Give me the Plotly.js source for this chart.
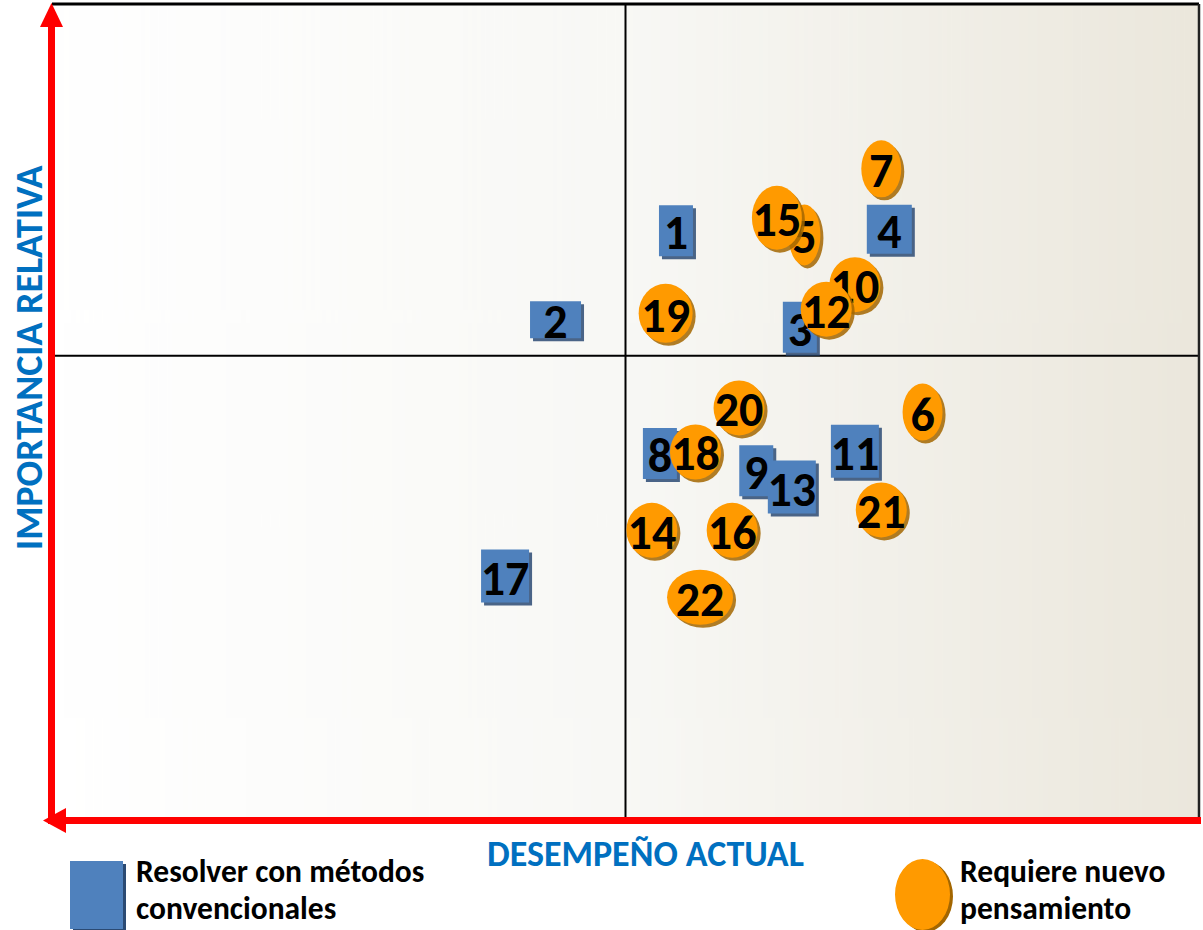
<!DOCTYPE html>
<html>
<head>
<meta charset="utf-8">
<script src="https://cdn.plot.ly/plotly-3.0.1.min.js"></script>
<style>html,body{margin:0;padding:0;background:#fff;}#chart{width:1203px;height:930px;}</style>
</head>
<body>
<div id="chart"></div>
<script>
// ---- data ----
const blueIds  = [1, 2, 3, 4, 8, 9, 11, 13, 17];
const blueX    = [5.44, 4.39, 6.52, 7.30, 5.30, 6.14, 7.00, 6.45, 3.95];
const blueY    = [7.22, 6.13, 6.04, 7.24, 4.49, 4.28, 4.52, 4.08, 2.99];

const orangeIds = [5, 6, 7, 10, 12, 14, 15, 16, 18, 19, 20, 21, 22];
const orangeX   = [6.56, 7.59, 7.23, 7.00, 6.75, 5.23, 6.32, 5.93, 5.61, 5.35, 5.99, 7.23, 5.65];
const orangeY   = [7.17, 5.00, 7.98, 6.56, 6.26, 3.55, 7.38, 3.55, 4.51, 6.21, 5.05, 3.80, 2.73];

const xDivider = 5.0;
const yDivider = 5.69;

const seriesNames = [['Resolver con métodos', 'convencionales'], ['Requiere nuevo', 'pensamiento']];
const xTitle = 'DESEMPEÑO ACTUAL';
const yTitle = 'IMPORTANCIA RELATIVA';

// ---- styles ----
const FONT = 'Carlito, Lato, "Open Sans", sans-serif';
const styles = {
  blue:   {fill: '#4F81BD', shadow: '#2B4A73', type: 'rect',
           w1: 34, h1: 51, w2: 48, h2: 53},
  orange: {fill: '#FF9A00', shadow: '#A36600', type: 'circle',
           w1: 40, h1: 57, w2: 51, h2: 55}
};
// individual marker sizes in px (styling only) where the picture differs from the default
const sizeOverride = {2: [51, 37], 4: [45, 49], 5: [32, 61], 15: [50, 64], 19: [54, 59], 22: [66, 55]};

// background gradient image
function gradientURL() {
  const c = document.createElement('canvas');
  c.width = 512; c.height = 4;
  const g = c.getContext('2d');
  const lg = g.createLinearGradient(0, 0, 512, 0);
  lg.addColorStop(0, '#ffffff');
  lg.addColorStop(0.5, '#f8f8f5');
  lg.addColorStop(1, '#ebe7dc');
  g.fillStyle = lg; g.fillRect(0, 0, 512, 4);
  return c.toDataURL('image/png');
}

// plot area geometry
const L = 52, R = 4, T = 4, B = 110, W = 1203, H = 930;
const PW = W - L - R, PH = H - T - B;
const XR = [0, 10], YR = [0, 10];
const px = v => (v - L) / PW;          // pixel -> paper (x)
const py = v => (H - B - v) / PH;      // pixel -> paper (y)
const dxPerPx = (XR[1] - XR[0]) / PW;  // pixel length -> x units
const dyPerPx = (YR[1] - YR[0]) / PH;  // pixel length -> y units

// combine points, draw in numeric order so overlaps stack correctly
const items = [];
blueIds.forEach((id, i) => items.push({id, x: blueX[i], y: blueY[i], s: styles.blue}));
orangeIds.forEach((id, i) => items.push({id, x: orangeX[i], y: orangeY[i], s: styles.orange}));
items.sort((a, b) => a.id - b.id);

const shapes = [];
// quadrant dividers
shapes.push({type: 'line', xref: 'x', yref: 'paper', x0: xDivider, x1: xDivider, y0: 0, y1: 1,
  line: {color: '#000', width: 2}, layer: 'above'});
shapes.push({type: 'line', xref: 'paper', yref: 'y', x0: 0, x1: 1, y0: yDivider, y1: yDivider,
  line: {color: '#000', width: 2}, layer: 'above'});
// frame top/right
shapes.push({type: 'line', xref: 'paper', yref: 'paper', x0: 0, x1: 1, y0: 1, y1: 1,
  line: {color: '#000', width: 3}, layer: 'above'});
shapes.push({type: 'line', xref: 'paper', yref: 'paper', x0: 1, x1: 1, y0: 1, y1: 0,
  line: {color: '#222', width: 2.5}, layer: 'above'});

items.forEach(it => {
  const two = String(it.id).length > 1;
  let w = two ? it.s.w2 : it.s.w1;
  let h = two ? it.s.h2 : it.s.h1;
  if (sizeOverride[it.id]) { [w, h] = sizeOverride[it.id]; }
  const hx = w / 2 * dxPerPx, hy = h / 2 * dyPerPx;
  const ox = 3 * dxPerPx, oy = 3 * dyPerPx;
  shapes.push({type: it.s.type, xref: 'x', yref: 'y', layer: 'above',
    x0: it.x - hx + ox, x1: it.x + hx + ox, y0: it.y - hy - oy, y1: it.y + hy - oy,
    fillcolor: it.s.shadow, line: {width: 0}, opacity: 0.85});
  shapes.push({type: it.s.type, xref: 'x', yref: 'y', layer: 'above',
    x0: it.x - hx, x1: it.x + hx, y0: it.y - hy, y1: it.y + hy,
    fillcolor: it.s.fill, line: {width: 0},
    label: {text: '<b>' + it.id + '</b>', textposition: 'middle center', padding: 0,
      font: {family: FONT, size: 48, color: '#000'}}});
});

// red axes arrows
const RED = '#FF0000';
shapes.push({type: 'line', xref: 'paper', yref: 'paper', x0: px(51.5), x1: px(51.5), y0: py(824), y1: py(26),
  line: {color: RED, width: 7}, layer: 'above'});
shapes.push({type: 'path', xref: 'paper', yref: 'paper',
  path: `M ${px(40)} ${py(27)} L ${px(51.5)} ${py(3)} L ${px(63)} ${py(27)} Z`,
  fillcolor: RED, line: {width: 0}, layer: 'above'});
shapes.push({type: 'line', xref: 'paper', yref: 'paper', x0: px(64), x1: px(1201), y0: py(820.5), y1: py(820.5),
  line: {color: RED, width: 7}, layer: 'above'});
shapes.push({type: 'path', xref: 'paper', yref: 'paper',
  path: `M ${px(66)} ${py(808)} L ${px(43)} ${py(820.5)} L ${px(66)} ${py(833)} Z`,
  fillcolor: RED, line: {width: 0}, layer: 'above'});

// legend swatches
shapes.push({type: 'rect', xref: 'paper', yref: 'paper', x0: px(73), x1: px(126), y0: py(864), y1: py(932),
  fillcolor: styles.blue.shadow, line: {width: 0}});
shapes.push({type: 'rect', xref: 'paper', yref: 'paper', x0: px(70), x1: px(123), y0: py(861), y1: py(929),
  fillcolor: styles.blue.fill, line: {width: 0}});
shapes.push({type: 'circle', xref: 'paper', yref: 'paper', x0: px(898), x1: px(953), y0: py(861), y1: py(932),
  fillcolor: styles.orange.shadow, line: {width: 0}});
shapes.push({type: 'circle', xref: 'paper', yref: 'paper', x0: px(895), x1: px(950), y0: py(859), y1: py(930),
  fillcolor: styles.orange.fill, line: {width: 0}});

const legFont = {family: FONT, size: 31.5, color: '#000', weight: 700};
const annotations = [
  {text: xTitle, xref: 'paper', yref: 'paper', x: px(645), y: py(853.5), xanchor: 'center', yanchor: 'middle',
   showarrow: false, font: {family: FONT, size: 36, color: '#0070C0', weight: 700}},
  {text: yTitle, xref: 'paper', yref: 'paper', x: px(28.5), y: py(357.5), xanchor: 'center', yanchor: 'middle',
   textangle: -90, showarrow: false, font: {family: FONT, size: 38, color: '#0070C0', weight: 700}}
];
[[134, seriesNames[0]], [958, seriesNames[1]]].forEach(([xp, lines]) => {
  lines.forEach((t, k) => annotations.push({text: t, xref: 'paper', yref: 'paper',
    x: px(xp), y: py(871 + k * 37), xanchor: 'left', yanchor: 'middle',
    showarrow: false, font: legFont}));
});

const traces = [
  {type: 'scatter', mode: 'markers', name: 'Resolver con métodos convencionales',
   x: blueX, y: blueY, text: blueIds.map(String), hovertemplate: '%{text}<extra></extra>',
   marker: {opacity: 0, size: 40}, showlegend: false},
  {type: 'scatter', mode: 'markers', name: 'Requiere nuevo pensamiento',
   x: orangeX, y: orangeY, text: orangeIds.map(String), hovertemplate: '%{text}<extra></extra>',
   marker: {opacity: 0, size: 40}, showlegend: false}
];

const layout = {
  width: W, height: H,
  margin: {l: L, r: R, t: T, b: B, pad: 0},
  paper_bgcolor: '#ffffff', plot_bgcolor: '#ffffff',
  showlegend: false,
  xaxis: {range: XR, showgrid: false, zeroline: false, showticklabels: false, ticks: '', showline: false, fixedrange: true},
  yaxis: {range: YR, showgrid: false, zeroline: false, showticklabels: false, ticks: '', showline: false, fixedrange: true},
  images: [{source: gradientURL(), xref: 'paper', yref: 'paper', x: 0, y: 1, sizex: 1, sizey: 1,
            sizing: 'stretch', layer: 'below', xanchor: 'left', yanchor: 'top'}],
  shapes, annotations
};

Plotly.newPlot('chart', traces, layout, {displayModeBar: false});
</script>
</body>
</html>
